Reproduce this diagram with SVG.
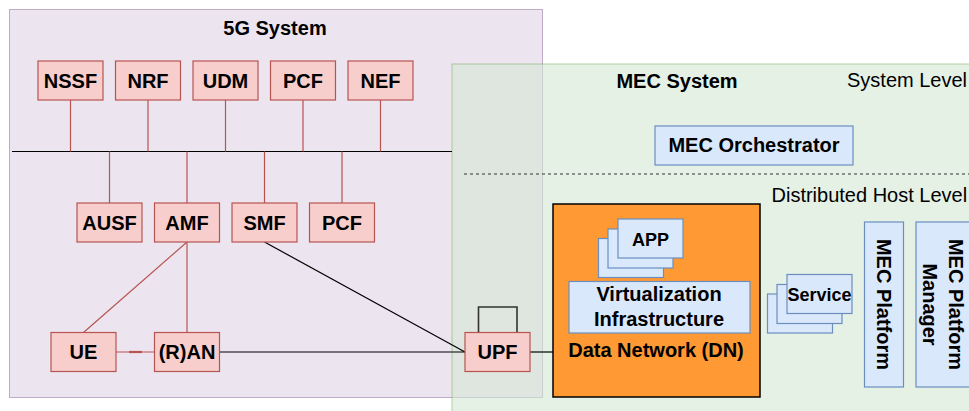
<svg xmlns="http://www.w3.org/2000/svg" width="969" height="411" viewBox="0 0 969 411">
<style>
text{font-family:"Liberation Sans",Arial,Helvetica,sans-serif;fill:#000}
.b{font-weight:bold;font-size:20px;text-anchor:middle}
.s{font-weight:bold;font-size:18px;text-anchor:middle}
.r{font-size:20px}
.nf{fill:#f8cecc;stroke:#b85450;stroke-width:1.2}
.bl{fill:#dae8fc;stroke:#6c8ebf;stroke-width:1.2}
.rl{stroke:#b85450;stroke-width:1.2;fill:none}
.kl{stroke:#000;stroke-width:1.2;fill:none}
</style>
<g id="system-5g">
<rect x="9.5" y="9.5" width="533" height="388" fill="#e1d5e7" stroke="#9673a6" opacity="0.6"/>
<text class="b" x="275" y="35">5G System</text>
</g>
<g id="system-mec">
<rect x="452" y="64" width="540" height="370" fill="#d5e8d4" stroke="#82b366" opacity="0.6"/>
<text class="b" x="677" y="87.5">MEC System</text>
<text class="r" x="847" y="87">System Level</text>
<line x1="464" y1="174" x2="969" y2="174" stroke="#333" stroke-dasharray="3 3"/>
<text class="r" x="771.5" y="201.5">Distributed Host Level</text>
</g>
<g id="connectors">
<line class="kl" x1="12" y1="151.5" x2="452" y2="151.5"/>
<path class="rl" d="M70.5 100V151.5M148 100V151.5M225.5 100V151.5M303 100V151.5M380.5 100V151.5"/>
<path class="rl" d="M109.5 151.5V203M187 151.5V203M264.5 151.5V203M342 151.5V203"/>
<line class="rl" x1="187" y1="242" x2="83.5" y2="332.5"/>
<line class="rl" x1="187" y1="242" x2="187" y2="332.5"/>
<line class="rl" x1="116" y1="352" x2="154.5" y2="352"/>
<line x1="129" y1="352" x2="142" y2="352" stroke="#b85450" stroke-width="2.2"/>
<line class="kl" x1="219.5" y1="352" x2="465" y2="352"/>
<line class="kl" x1="264.5" y1="242" x2="465" y2="352"/>
<path d="M478.5 332.5V307H517V332.5" fill="none" stroke="#333" stroke-width="1.6"/>
<line class="kl" x1="530" y1="352" x2="553" y2="352"/>
</g>
<g id="nssf"><rect class="nf" x="38" y="61" width="65" height="39"/><text class="b" x="70.5" y="87.5">NSSF</text></g>
<g id="nrf"><rect class="nf" x="115.5" y="61" width="65" height="39"/><text class="b" x="148" y="87.5">NRF</text></g>
<g id="udm"><rect class="nf" x="193" y="61" width="65" height="39"/><text class="b" x="225.5" y="87.5">UDM</text></g>
<g id="pcf-top"><rect class="nf" x="270.5" y="61" width="65" height="39"/><text class="b" x="303" y="87.5">PCF</text></g>
<g id="nef"><rect class="nf" x="348" y="61" width="65" height="39"/><text class="b" x="380.5" y="87.5">NEF</text></g>
<g id="ausf"><rect class="nf" x="77" y="203" width="65" height="39"/><text class="b" x="109.5" y="229.5">AUSF</text></g>
<g id="amf"><rect class="nf" x="154.5" y="203" width="65" height="39"/><text class="b" x="187" y="229.5">AMF</text></g>
<g id="smf"><rect class="nf" x="232" y="203" width="65" height="39"/><text class="b" x="264.5" y="229.5">SMF</text></g>
<g id="pcf-bottom"><rect class="nf" x="309.5" y="203" width="65" height="39"/><text class="b" x="342" y="229.5">PCF</text></g>
<g id="ue"><rect class="nf" x="51" y="332.5" width="65" height="39"/><text class="b" x="83.5" y="359">UE</text></g>
<g id="ran"><rect class="nf" x="154.5" y="332.5" width="65" height="39"/><text class="b" x="187" y="359">(R)AN</text></g>
<g id="upf"><rect class="nf" x="465" y="332.5" width="65" height="39"/><text class="b" x="497.5" y="359">UPF</text></g>
<g id="mec-orchestrator"><rect class="bl" x="655" y="126" width="198" height="39"/><text class="b" x="754" y="152">MEC Orchestrator</text></g>
<g id="data-network">
<rect x="553" y="204" width="207" height="193" fill="#ff9933" stroke="#000" stroke-width="1.5"/>
<text class="b" x="656" y="357">Data Network (DN)</text>
</g>
<g id="app">
<rect class="bl" x="598.5" y="238.5" width="65" height="39"/>
<rect class="bl" x="608" y="229" width="65" height="39"/>
<rect class="bl" x="618" y="219" width="65" height="39"/>
<text class="s" x="650.5" y="245.5">APP</text>
</g>
<g id="virtualization-infrastructure">
<rect class="bl" x="569" y="281.5" width="181" height="51.5"/>
<text class="b" x="659" y="300.5">Virtualization</text>
<text class="b" x="659" y="325.5">Infrastructure</text>
</g>
<g id="service">
<rect class="bl" x="767.5" y="294" width="65" height="39"/>
<rect class="bl" x="777" y="284.5" width="65" height="39"/>
<rect class="bl" x="787" y="274.5" width="65" height="39"/>
<text class="s" x="819.5" y="300.5">Service</text>
</g>
<g id="mec-platform">
<rect class="bl" x="864.5" y="222" width="39" height="165"/>
<text class="b" transform="rotate(90 884 304.5)" x="884" y="311.5">MEC Platform</text>
</g>
<g id="mec-platform-manager">
<rect class="bl" x="916" y="222" width="70" height="165"/>
<text class="b" transform="rotate(90 943 304.5)" x="943" y="298.5">MEC Platform</text>
<text class="b" transform="rotate(90 943 304.5)" x="943" y="324.5">Manager</text>
</g>
</svg>
